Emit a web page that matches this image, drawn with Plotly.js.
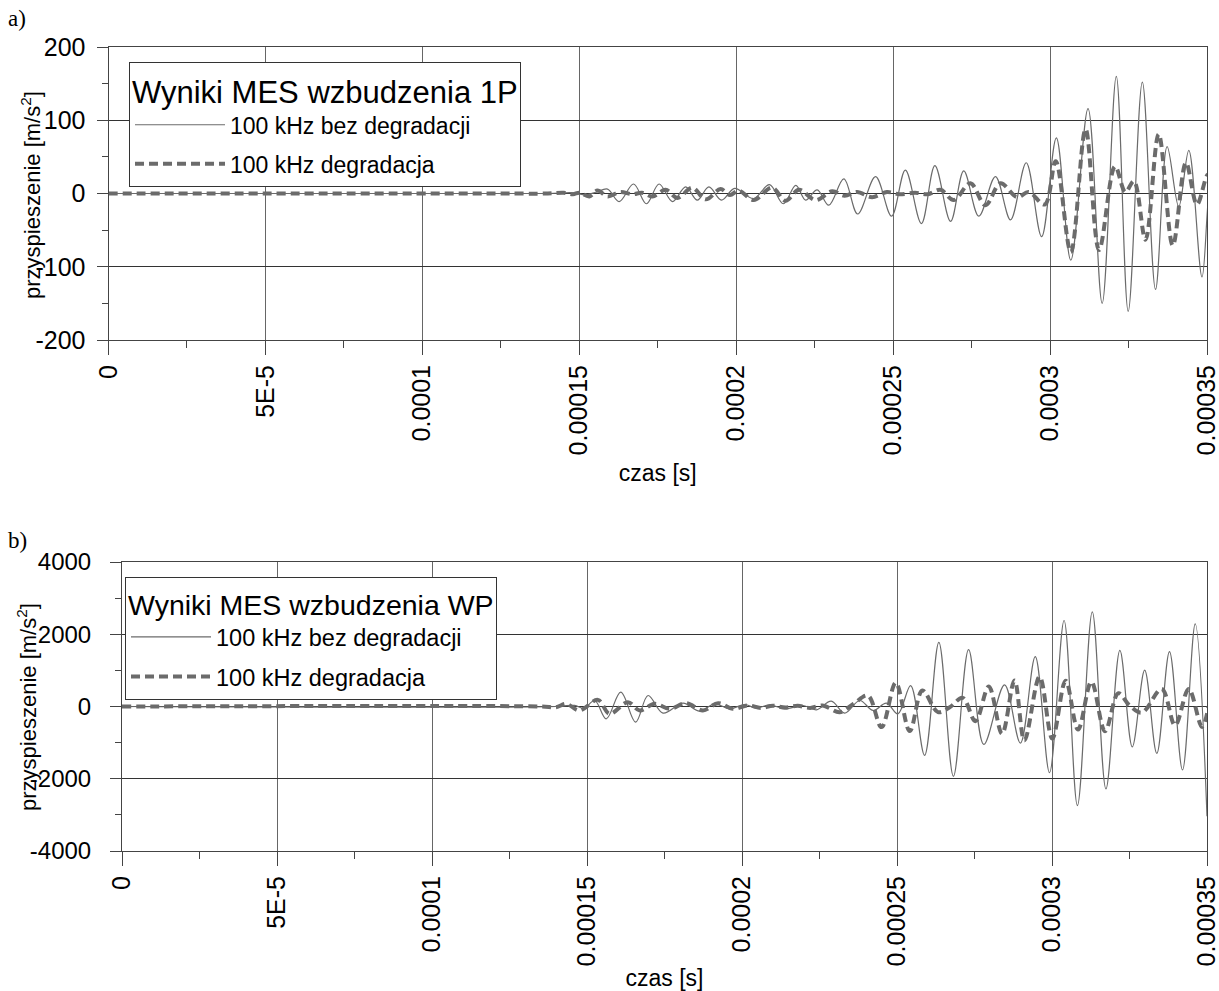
<!DOCTYPE html>
<html>
<head>
<meta charset="utf-8">
<script src="https://cdn.plot.ly/plotly-3.0.1.min.js"></script>
<style>html,body{margin:0;padding:0;background:#fff;}#chart{width:1219px;height:991px;}</style>
</head>
<body>
<div id="chart"></div>
<script>
// ---- Data (time in microseconds, acceleration in m/s^2) ----
// a) Wyniki MES wzbudzenia 1P
const tA_bez = [0, 100, 140, 148, 152, 155.5, 159, 162.7, 167.3, 171.4, 175.4, 179.7, 183.9, 187.6, 191.3, 195.3, 199.5, 205.5, 210.6, 215.0, 219.0, 222.1, 225.8, 229.5, 234.3, 238.7, 244.4, 249.5, 253.9, 259.0, 263.3, 268.3, 272.5, 277.3, 282.6, 287.4, 292.4, 297.3, 302.0, 306.6, 312.1, 316.6, 321.1, 324.9, 329.4, 333.6, 337.3, 341.0, 344.2, 348.4, 350.6, 352];
const aA_bez = [0, 0, 0, 1, -2, 2, 6, -11, 13, -14, 13, -11, 9, -9, 9, -9, 7, -7, 12, -14, 11, -9, 5, -16, 20, -28, 23, -31, 32, -41, 38, -38, 31, -31, 23, -36, 42, -59, 76, -91, 116, -150, 160, -161, 152, -131, 64, -18, 59, -114, 0, 30];
const tA_deg = [0, 120, 140, 145, 148, 150, 153.2, 155.8, 159, 163, 167, 170, 173.3, 177.5, 181.3, 186, 190.3, 195, 198, 200.8, 205.6, 211.4, 215.7, 220, 225.3, 230.6, 234.5, 238.5, 243.3, 248, 252, 257, 261, 265.1, 269.3, 274.6, 279.4, 284.2, 289.5, 293.2, 298.3, 301.8, 306.6, 311.3, 315.6, 320.7, 324, 326.7, 330.4, 334.6, 339.1, 343.3, 346.8, 350.3, 352.6];
const aA_deg = [0, 0, 0, 1, -1, 1, -4, 4, -4, 2, -1, 1, -4, 5, -6, 8, -8, 6, -2, 4, -9, 8, -10, 5, -9, 3, -3, 2, -5, 2, -1, 1, -1, 5, -9, 14, -16, 14, -5, 2, -15, 44, -80, 88, -77, 37, 2, 17, -63, 81, -71, 42, -15, 26, -40];

// b) Wyniki MES wzbudzenia WP
const tB_bez = [0, 140, 146, 149, 152.5, 156.2, 160.9, 165.7, 169.7, 174.5, 181.0, 186.3, 191.2, 196.0, 200.9, 204.6, 208.9, 213.8, 219.7, 224.0, 228.8, 233.1, 238.0, 242.3, 246.6, 250.3, 254.4, 258.9, 263.5, 268.2, 273.1, 278.0, 284.7, 289.8, 294.6, 299.2, 303.9, 308.2, 313.0, 317.4, 321.9, 325.9, 329.9, 333.8, 337.9, 342.1, 346.2, 350.0];
const aB_bez = [0, 0, 30, -50, 166, -341, 396, -433, 304, -184, 92, -129, 74, -65, 55, -46, 46, -65, 28, -92, 148, -184, 166, -110, 92, -202, 580, -1352, 1776, -1932, 1573, -1049, 598, -1012, 1380, -1830, 2380, -2745, 2617, -2278, 1555, -1116, 1006, -1299, 1519, -1757, 2287, -3038];
const tB_deg = [0, 135, 140, 143.3, 147.6, 153.5, 157.3, 163.2, 167.0, 171.8, 176.7, 182.0, 187.4, 192.3, 197.1, 202, 206, 210, 214, 218, 222, 226, 231.5, 236, 240.6, 245.0, 249.6, 254.1, 258.2, 263.2, 267, 271.2, 275.3, 279.6, 283.9, 287.9, 291.1, 296.0, 300.1, 304.4, 308.4, 312.7, 317.1, 321.4, 325, 329, 335.4, 339.7, 344.1, 348.4, 350.5];
const aB_deg = [0, 0, -20, 74, -110, 184, -203, 120, -110, 74, -65, 92, -110, 92, -65, 30, -40, 20, -30, 20, -40, 30, -157, 74, 304, -570, 660, -681, 442, -156, -20, 239, -405, 552, -754, 718, -938, 828, -888, 714, -640, 686, -686, 366, 30, -170, 485, -521, 485, -567, 0];

// tick labels
const xTickVals = [0, 0.00005, 0.0001, 0.00015, 0.0002, 0.00025, 0.0003, 0.00035];
const xTickText = ['0', '5E-5', '0.0001', '0.00015', '0.0002', '0.00025', '0.0003', '0.00035'];
const yTickValsA = [-200, -100, 0, 100, 200];
const yTickTextA = ['-200', '-100', '0', '100', '200'];
const yTickValsB = [-4000, -2000, 0, 2000, 4000];
const yTickTextB = ['-4000', '-2000', '0', '2000', '4000'];
const seriesNames = ['100 kHz bez degradacji', '100 kHz degradacja'];
const legendTitles = ['Wyniki MES wzbudzenia 1P', 'Wyniki MES wzbudzenia WP'];
const xTitle = 'czas [s]';
const yTitle = 'przyspieszenie [m/s<sup>2</sup>]';

const us = arr => arr.map(v => v * 1e-6);
const lineColor = '#6b6b6b';

const traces = [
  {x: us(tA_bez), y: aA_bez, xaxis: 'x', yaxis: 'y', name: seriesNames[0], legend: 'legend', legendgroup: 'a1', mode: 'lines',
   line: {color: lineColor, width: 1.2, shape: 'spline', smoothing: 1}},
  {x: us(tA_deg), y: aA_deg, xaxis: 'x', yaxis: 'y', name: seriesNames[1], legend: 'legend', legendgroup: 'a2', mode: 'lines',
   line: {color: lineColor, width: 4, dash: '9px,5px', shape: 'spline', smoothing: 1}},
  {x: us(tB_bez), y: aB_bez, xaxis: 'x2', yaxis: 'y2', name: seriesNames[0], legend: 'legend2', legendgroup: 'b1', mode: 'lines',
   line: {color: lineColor, width: 1.2, shape: 'spline', smoothing: 1}},
  {x: us(tB_deg), y: aB_deg, xaxis: 'x2', yaxis: 'y2', name: seriesNames[1], legend: 'legend2', legendgroup: 'b2', mode: 'lines',
   line: {color: lineColor, width: 4, dash: '9px,5px', shape: 'spline', smoothing: 1}}
];

const W = 1219, H = 991;
const px = v => v / W, py = v => 1 - v / H;
const xEnd = 0.00035 * (1 + 1e-9);

function xAxis(dom, anchor) {
  return {
    domain: dom, anchor: anchor, range: [0, xEnd], tickmode: 'array',
    tickvals: xTickVals, ticktext: xTickText, tickangle: -90, ticklabeloverflow: 'allow',
    ticks: 'outside', ticklen: 14, tickwidth: 1, tickcolor: '#444',
    tickfont: {size: 25, color: '#000'},
    minor: {tickmode: 'linear', tick0: 0, dtick: 0.000025, ticks: 'outside', ticklen: 7, tickcolor: '#444', showgrid: false},
    showgrid: true, gridcolor: '#666', gridwidth: 1,
    showline: true, mirror: true, linecolor: '#444', linewidth: 1, zeroline: false,
    title: {text: xTitle, font: {size: 23, color: '#000'}, standoff: 10}
  };
}
function yAxis(dom, anchor, range, vals, text, minorD, fsize, standoff) {
  return {
    domain: dom, anchor: anchor, range: range, tickmode: 'array',
    tickvals: vals, ticktext: text, ticklabeloverflow: 'allow',
    ticks: 'outside', ticklen: 11, tickwidth: 1, tickcolor: '#444',
    ticklabelstandoff: standoff,
    tickfont: {size: fsize, color: '#000'},
    minor: {tickmode: 'linear', tick0: 0, dtick: minorD, ticks: 'outside', ticklen: 6, tickcolor: '#444', showgrid: false},
    showgrid: true, gridcolor: '#333', gridwidth: 1,
    zeroline: true, zerolinecolor: '#333', zerolinewidth: 1,
    showline: true, mirror: true, linecolor: '#444', linewidth: 1
  };
}

const legendCommon = {
  xanchor: 'left', yanchor: 'top', bgcolor: '#fff', bordercolor: '#333', borderwidth: 1,
  tracegroupgap: 6
};

const yTitleFont = {family: 'Liberation Sans, Arial, sans-serif', size: 22, color: '#000'};
const layout = {
  width: W, height: H, margin: {l: 0, r: 0, t: 0, b: 0},
  paper_bgcolor: '#fff', plot_bgcolor: '#fff',
  font: {family: 'Liberation Sans, Arial, sans-serif', color: '#000'},
  showlegend: true, hovermode: false,
  xaxis: xAxis([px(108.5), px(1207)], 'y'),
  yaxis: yAxis([py(340), py(47)], 'x', [-200, 200], yTickValsA, yTickTextA, 50, 25, 6),
  xaxis2: xAxis([px(122), px(1207)], 'y2'),
  yaxis2: yAxis([py(851), py(562)], 'x2', [-4000, 4000], yTickValsB, yTickTextB, 1000, 24, 14),
  legend: Object.assign({}, legendCommon, {x: px(129), y: py(62), itemwidth: 90, font: {size: 23, color: '#000'},
    title: {text: legendTitles[0], font: {size: 31, color: '#000'}}}),
  legend2: Object.assign({}, legendCommon, {x: px(125), y: py(577), itemwidth: 80, font: {size: 23.5, color: '#000'},
    title: {text: legendTitles[1], font: {size: 28.5, color: '#000'}}}),
  annotations: [
    {text: 'a)', xref: 'paper', yref: 'paper', x: px(6), y: py(4), xanchor: 'left', yanchor: 'top', showarrow: false,
     font: {family: 'Liberation Serif, Times New Roman, serif', size: 23, color: '#000'}},
    {text: 'b)', xref: 'paper', yref: 'paper', x: px(6), y: py(526), xanchor: 'left', yanchor: 'top', showarrow: false,
     font: {family: 'Liberation Serif, Times New Roman, serif', size: 23, color: '#000'}},
    {text: yTitle, xref: 'paper', yref: 'paper', x: px(31), y: py(195), xanchor: 'center', yanchor: 'middle',
     textangle: -90, showarrow: false, font: yTitleFont},
    {text: yTitle, xref: 'paper', yref: 'paper', x: px(27), y: py(707), xanchor: 'center', yanchor: 'middle',
     textangle: -90, showarrow: false, font: yTitleFont}
  ]
};

Plotly.newPlot('chart', traces, layout, {staticPlot: true, displayModeBar: false});
</script>
</body>
</html>
